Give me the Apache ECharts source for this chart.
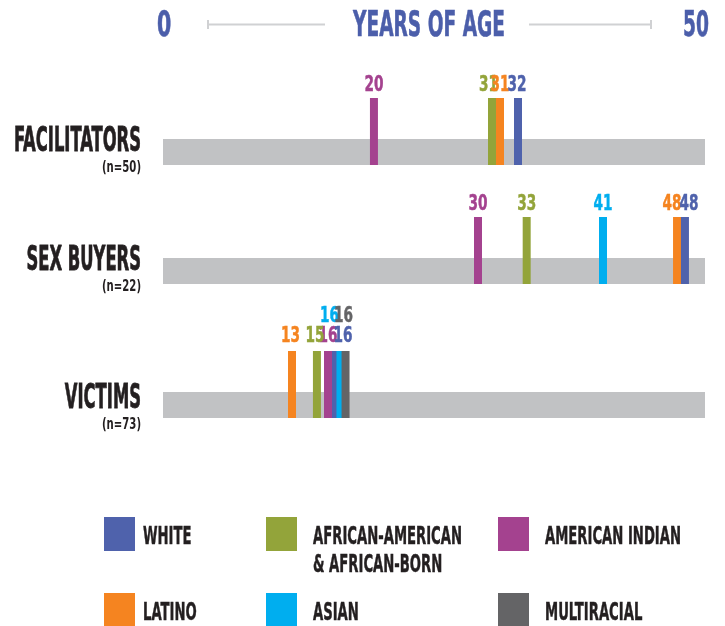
<!DOCTYPE html>
<html><head><meta charset="utf-8">
<script src="https://cdn.jsdelivr.net/npm/echarts@6/dist/echarts.min.js"></script>
<style>html,body{margin:0;padding:0;background:#fff}#main{width:725px;height:626px}</style>
</head><body><div id="main"></div>
<script>
// ---------- data ----------
const rows = ['FACILITATORS', 'SEX BUYERS', 'VICTIMS'];
const rowSizes = ['(n=50)', '(n=22)', '(n=73)'];
const groups = ['WHITE', 'AFRICAN-AMERICAN\n& AFRICAN-BORN', 'AMERICAN INDIAN', 'LATINO', 'ASIAN', 'MULTIRACIAL'];
const axisTicks = [0, 50];
const axisTitle = 'YEARS OF AGE';
// plotted position of each median-age mark (years), per row [facilitators, sex buyers, victims]
const whiteAge    = [32.75, 48.15, 15.96];
const africanAge  = [30.35, 33.55, 14.2];
const amIndianAge = [19.46, 29.06, 15.22];
const latinoAge   = [31.09, 47.42, 11.9];
const asianAge    = [null, 40.59, 16.37];
const multiAge    = [null, null, 16.84];
// printed median-age labels
const whiteLabel    = [32, 48, 16];
const africanLabel  = [31, 33, 15];
const amIndianLabel = [20, 30, 16];
const latinoLabel   = [31, 48, 13];
const asianLabel    = [null, 41, 16];
const multiLabel    = [null, null, 16];

// ---------- style ----------
const COLORS = ['#4F62AC', '#93A43A', '#A4428F', '#F58420', '#00AEEF', '#646466'];
const TEXT = '#231F20';
const HEAD = '#4B5EAA';
const BAND = '#C1C2C4';
const FONT = '"Liberation Sans Narrow", "DejaVu Sans Condensed", "Liberation Sans", sans-serif';
const gridTops = [98, 217, 351];
const gridH = 67, bandH = 26, plotLeft = 163, plotRight = 20;
const drawOrder = [2, 1, 3, 0, 4, 5];
const labelGap = [6, 6, 8];
const labelShift = { '0-1': [-3.5, 0], '0-0': [-1, 0], '1-3': [-5, 0], '1-0': [4, 0],
  '2-3': [-1.5, 0], '2-1': [-2, 0], '2-0': [7, 0], '2-4': [-11, -20], '2-5': [-2, -20] };

const ages = [whiteAge, africanAge, amIndianAge, latinoAge, asianAge, multiAge];
const labels = [whiteLabel, africanLabel, amIndianLabel, latinoLabel, asianLabel, multiLabel];

const ctx = document.createElement('canvas').getContext('2d');
function fit(text, font, target) { ctx.font = font; return target / ctx.measureText(text).width; }
const fNum = 'bold 22px ' + FONT;
const sNum = Math.min(1, fit('20', fNum, 19));
const fRow = 'bold 33px ' + FONT;
const sRow = fit('FACILITATORS', fRow, 127);
const fN = 'bold 15px ' + FONT;
const sN = fit('(n=50)', fN, 39);
const fLeg = 'bold 25px ' + FONT;
const sLeg = fit('AMERICAN INDIAN', fLeg, 136);
const fHead = 'bold 36px ' + FONT;
const sHead = fit(axisTitle, fHead, 152);
const sTick = fit('50', fHead, 26);

const chart = echarts.init(document.getElementById('main'), null, { renderer: 'canvas', width: 725, height: 626 });

const grids = [], xAxes = [], yAxes = [], series = [];
rows.forEach((r, ri) => {
  grids.push({ left: plotLeft, right: plotRight, top: gridTops[ri], height: gridH });
  xAxes.push({ gridIndex: ri, type: 'value', min: 0, max: 50, interval: 50, show: false });
  yAxes.push({ gridIndex: ri, type: 'value', min: 0, max: 1, show: false });
  // grey band
  series.push({ type: 'custom', xAxisIndex: ri, yAxisIndex: ri, silent: true, z: 1,
    data: [[0, 50]],
    renderItem: (p, api) => {
      const a = api.coord([api.value(0), bandH / gridH]);
      const b = api.coord([api.value(1), 0]);
      return { type: 'rect', shape: { x: a[0], y: a[1], width: b[0] - a[0], height: b[1] - a[1] }, style: { fill: BAND } };
    } });
  // age marks
  const data = [];
  drawOrder.forEach(g => { if (ages[g][ri] != null) data.push([ages[g][ri], g, labels[g][ri], ri]); });
  series.push({ type: 'custom', xAxisIndex: ri, yAxisIndex: ri, z: 2, clip: false, data,
    renderItem: (p, api) => {
      const age = api.value(0), g = api.value(1), lab = api.value(2), row = api.value(3);
      const t = api.coord([age, 1]), b = api.coord([age, 0]);
      const sh = labelShift[row + '-' + g] || [0, 0];
      return { type: 'group', children: [
        { type: 'rect', shape: { x: t[0] - 4, y: t[1], width: 8, height: b[1] - t[1] }, style: { fill: COLORS[g] } },
        { type: 'text', x: t[0] + sh[0], y: t[1] - labelGap[row] + 4 + sh[1], scaleX: sNum,
          style: { text: String(lab), font: fNum, fill: COLORS[g], stroke: COLORS[g], lineWidth: 0.5,
            align: 'center', verticalAlign: 'bottom' } }
      ] };
    } });
});

chart.setOption({ animation: false, grid: grids, xAxis: xAxes, yAxis: yAxes, series });

// graphic: header, row titles, legend
const graphic = [];
// axis end labels placed through the x scale of the first grid
axisTicks.forEach((v, i) => {
  const px = chart.convertToPixel({ xAxisIndex: 0 }, v);
  const last = i === axisTicks.length - 1;
  graphic.push({ type: 'text', x: last ? px + 4 : px - 6, y: 26.5, scaleX: last ? sTick : sTick * 1.1,
    style: { text: String(v), font: fHead, fill: HEAD, stroke: HEAD, lineWidth: 0.6,
      align: last ? 'right' : 'left', verticalAlign: 'middle' } });
});
graphic.push({ type: 'line', shape: { x1: 208, y1: 24.5, x2: 325, y2: 24.5 }, style: { stroke: '#D0D1D3', lineWidth: 2 } });
graphic.push({ type: 'line', shape: { x1: 208, y1: 20, x2: 208, y2: 29 }, style: { stroke: '#D0D1D3', lineWidth: 2 } });
graphic.push({ type: 'line', shape: { x1: 529, y1: 24.5, x2: 651, y2: 24.5 }, style: { stroke: '#D0D1D3', lineWidth: 2 } });
graphic.push({ type: 'line', shape: { x1: 651, y1: 20, x2: 651, y2: 29 }, style: { stroke: '#D0D1D3', lineWidth: 2 } });
graphic.push({ type: 'text', x: 429, y: 26.5, scaleX: sHead,
  style: { text: axisTitle, font: fHead, fill: HEAD, stroke: HEAD, lineWidth: 0.6, align: 'center', verticalAlign: 'middle' } });
const capMid = [140, 259, 397];
rows.forEach((r, ri) => {
  graphic.push({ type: 'text', x: 141, y: capMid[ri] + 2, scaleX: sRow,
    style: { text: r, font: fRow, fill: TEXT, stroke: TEXT, lineWidth: 0.8, align: 'right', verticalAlign: 'middle' } });
  graphic.push({ type: 'text', x: 141, y: capMid[ri] + 28, scaleX: sN,
    style: { text: rowSizes[ri], font: fN, fill: TEXT, align: 'right', verticalAlign: 'middle' } });
});
const legX = [104, 266, 498], legTX = [143, 313, 545], legY = [517, 593];
groups.forEach((gname, gi) => {
  const col = gi % 3, rw = Math.floor(gi / 3);
  graphic.push({ type: 'rect', shape: { x: legX[col], y: legY[rw], width: 31, height: 34 }, style: { fill: COLORS[gi] } });
  graphic.push({ type: 'text', x: legTX[col], y: legY[rw] + 6, scaleX: sLeg,
    style: { text: gname, font: fLeg, fill: TEXT, stroke: TEXT, lineWidth: 0.5,
      align: 'left', verticalAlign: 'top', lineHeight: 28 } });
});

chart.setOption({ graphic });
</script>
</body></html>
